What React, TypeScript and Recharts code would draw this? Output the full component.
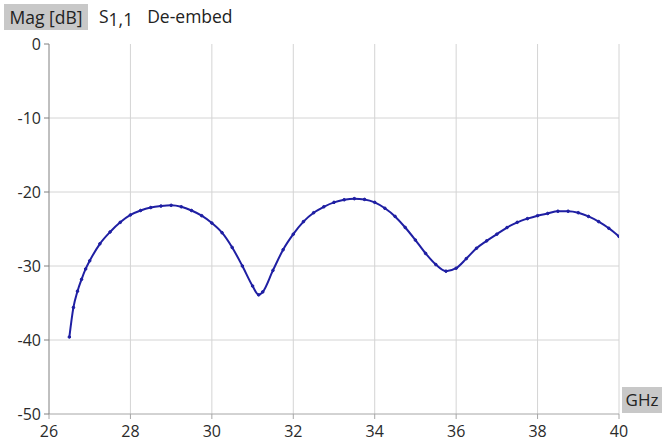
import React from "react";
import { LineChart, Line, XAxis, YAxis, CartesianGrid } from "recharts";

const freqGHz = [
  26.5, 26.6, 26.7, 26.8, 26.9, 27.0, 27.25, 27.5, 27.75, 28.0, 28.25, 28.5, 28.75, 29.0, 29.25,
  29.5, 29.75, 30.0, 30.25, 30.5, 30.75, 31.0, 31.15, 31.25, 31.5, 31.75, 32.0, 32.25, 32.5, 32.75,
  33.0, 33.25, 33.5, 33.75, 34.0, 34.25, 34.5, 34.75, 35.0, 35.25, 35.5, 35.75, 36.0, 36.25, 36.5,
  36.75, 37.0, 37.25, 37.5, 37.75, 38.0, 38.25, 38.5, 38.75, 39.0, 39.25, 39.5, 39.75, 40.0,
];
const magDb = [
  -39.6, -35.6, -33.4, -31.8, -30.4, -29.3, -27.0, -25.4, -24.1, -23.1, -22.5, -22.1, -21.9, -21.8,
  -22.0, -22.5, -23.2, -24.2, -25.5, -27.5, -30.0, -32.7, -33.9, -33.5, -30.6, -27.8, -25.7, -24.0,
  -22.8, -22.0, -21.4, -21.05, -20.9, -21.0, -21.4, -22.2, -23.3, -24.8, -26.5, -28.3, -29.8, -30.7,
  -30.3, -29.0, -27.6, -26.6, -25.7, -24.8, -24.1, -23.6, -23.2, -22.9, -22.6, -22.6, -22.8, -23.3,
  -24.0, -24.9, -26.0,
];
const xTicks = [26, 28, 30, 32, 34, 36, 38, 40];
const yTicks = [0, -10, -20, -30, -40, -50];
const gridX = [28, 30, 32, 34, 36, 38, 40];
const gridY = [-10, -20, -30, -40];

const data = freqGHz.map((f, i) => ({ f, mag: magDb[i] }));

const FONT = "'Open Sans', sans-serif";

export default function App() {
  return (
    <div style={{ position: "absolute", left: 0, top: 0, width: 662, height: 443, background: "#fff", fontFamily: FONT }}>
      <LineChart
        width={662}
        height={443}
        data={data}
        margin={{ top: 44, right: 43, bottom: 0, left: 0 }}
      >
        <CartesianGrid
          stroke="#d4d4d4"
          strokeWidth={1}
          horizontalValues={gridY}
          verticalValues={gridX}
        />
        <XAxis
          dataKey="f"
          type="number"
          domain={[26, 40]}
          ticks={xTicks}
          height={29}
          tickSize={5}
          tickMargin={7}
          stroke="#a6a6a6"
          tick={{ fill: "#2a2a2a", fontSize: 16, fontFamily: FONT }}
          allowDataOverflow
        />
        <YAxis
          type="number"
          domain={[-50, 0]}
          ticks={yTicks}
          width={49}
          tickSize={5}
          tickMargin={3}
          stroke="#808080"
          tick={{ fill: "#2a2a2a", fontSize: 16, fontFamily: FONT }}
          allowDataOverflow
        />
        <Line
          dataKey="mag"
          type="monotone"
          stroke="#1f1fa3"
          strokeWidth={2}
          dot={{ r: 1.3, fill: "#1f1fa3", stroke: "#1f1fa3", strokeWidth: 1 }}
          isAnimationActive={false}
        />
      </LineChart>
      <div style={{ position: "absolute", left: 4, top: 4, width: 84, height: 26, background: "#c8c8c8", fontSize: 17.5, lineHeight: "26px", color: "#222", textAlign: "center", whiteSpace: "nowrap" }}>
        Mag [dB]
      </div>
      <div style={{ position: "absolute", left: 99, top: 3, height: 26, fontSize: 17.5, lineHeight: "26px", color: "#222", whiteSpace: "nowrap" }}>
        S<span style={{ position: "relative", top: 3 }}>1,1</span>
        <span style={{ marginLeft: 14 }}>De-embed</span>
      </div>
      <div style={{ position: "absolute", left: 622, top: 387, width: 40, height: 26, background: "#c8c8c8", fontSize: 17, lineHeight: "26px", color: "#222", textAlign: "center" }}>
        GHz
      </div>
    </div>
  );
}
